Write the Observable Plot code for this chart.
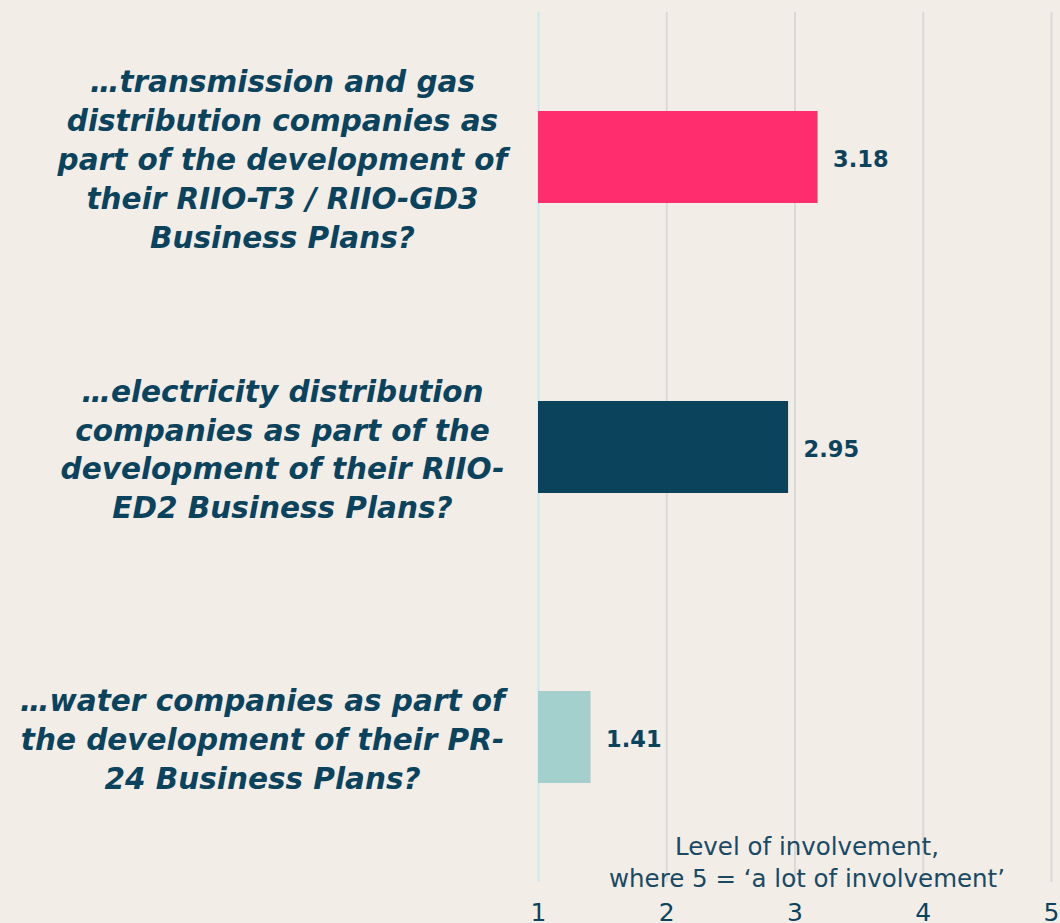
<!DOCTYPE html>
<html>
<head>
<meta charset="utf-8">
<script src="https://cdn.jsdelivr.net/npm/d3@7"></script>
<script src="https://cdn.jsdelivr.net/npm/@observablehq/plot@0.6"></script>
<style>
  html, body { margin: 0; padding: 0; background: #f2ede7; overflow: hidden; }
  #chart svg { display: block; }
</style>
</head>
<body>
<div id="chart"></div>
<script>
const categories = [
  "…transmission and gas\ndistribution companies as\npart of the development of\ntheir RIIO-T3 / RIIO-GD3\nBusiness Plans?",
  "…electricity distribution\ncompanies as part of the\ndevelopment of their RIIO-\nED2 Business Plans?",
  "…water companies as part of\nthe development of their PR-\n24 Business Plans?"
];
const values = [3.18, 2.95, 1.41];
const colors = ["#ff2d6e", "#0b435d", "#a3cfcc"];
const xTicks = [1, 2, 3, 4, 5];
const axisLabel = "Level of involvement,\nwhere 5 = ‘a lot of involvement’";

const data = categories.map((c, i) => ({category: c, value: values[i], color: colors[i]}));
const textColor = "#0b435d";
const labelStyle = {tickSize: 0, tickPadding: 0, label: null, textAnchor: "middle",
  fontSize: 29.5, fontWeight: "bold", fontStyle: "italic", lineHeight: 1.32, fill: textColor};

const chart = Plot.plot({
  width: 1060,
  height: 923,
  marginLeft: 538,
  marginRight: 9,
  marginTop: 12,
  marginBottom: 41,
  style: {background: "#f2ede7", color: textColor, fontFamily: "'DejaVu Sans', sans-serif"},
  x: {domain: [1, 5], ticks: xTicks},
  y: {domain: categories, padding: 0},
  marks: [
    Plot.ruleX(xTicks, {x: d => d, stroke: d => d === 1 ? "#cde6ef" : "#d9d9d9", strokeWidth: 2}),
    Plot.barX(data, {x1: 1, x2: "value", y: "category", fill: "color", insetTop: 99, insetBottom: 99}),
    Plot.text(data, {x: "value", y: "category", text: d => d.value.toFixed(2), textAnchor: "start", dx: 15, dy: 2,
      fontSize: 22.5, fontWeight: "bold", fill: textColor}),
    Plot.axisY({...labelStyle, ticks: categories.slice(0, 2), dx: -256}),
    Plot.axisY({...labelStyle, ticks: categories.slice(2), dx: -276}),
    Plot.axisX({ticks: xTicks, tickFormat: "d", tickSize: 0, tickPadding: 21, label: null, fontSize: 25, fill: textColor}),
    Plot.text([axisLabel], {frameAnchor: "bottom", dx: 12, dy: 4, lineAnchor: "bottom", lineHeight: 1.3,
      fontSize: 24.5, fill: "#1a4a63"})
  ]
});
document.getElementById("chart").append(chart);
</script>
</body>
</html>
